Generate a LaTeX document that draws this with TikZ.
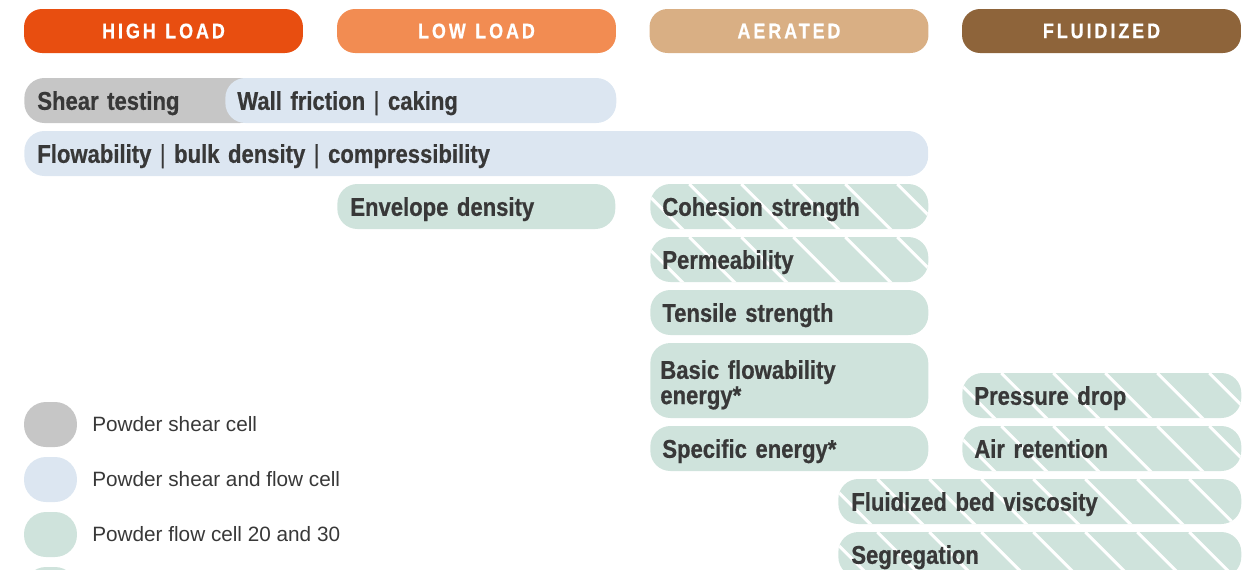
\documentclass[tikz,border=0pt]{standalone}
\usepackage{fontspec}
\usepackage{tikz}
\setmainfont{Liberation Sans}
\newfontfamily\condfont[FakeStretch=0.86,FakeBold=0.6]{Liberation Sans}
\newfontfamily\capsfont[FakeStretch=0.85,FakeBold=0.5,LetterSpace=14]{Liberation Sans}
\newcommand\headspace{\spaceskip 0.45em\relax}
\newcommand\barspace{\spaceskip 0.2em\relax}

\definecolor{highload}{HTML}{E84E10}
\definecolor{lowload}{HTML}{F28C52}
\definecolor{aerated}{HTML}{D9AF84}
\definecolor{fluidized}{HTML}{8E643A}
\definecolor{sheargray}{HTML}{C6C6C6}
\definecolor{shearblue}{HTML}{DCE6F1}
\definecolor{flowgreen}{HTML}{CFE3DC}
\definecolor{labeltext}{HTML}{383838}

\begin{document}
\begin{tikzpicture}[
    x=0.02cm, y=-0.02cm,
    header/.style={rounded corners=0.36cm, minimum width=5.58cm,
    minimum height=0.88cm, inner sep=0pt, text=white,
    font=\capsfont\bfseries\fontsize{12}{12}\selectfont\headspace},
    pill/.style={rounded corners=0.4cm, minimum height=0.9cm,
    inner xsep=0.26cm, inner ysep=0pt, anchor=west, align=left,
    text depth=0pt, text=labeltext,
    font=\condfont\bfseries\fontsize{14.6}{14.4}\selectfont\barspace},
    gray bar/.style={pill, fill=sheargray},
    blue bar/.style={pill, fill=shearblue},
    green bar/.style={pill, fill=flowgreen},
    hatched bar/.style={green bar, path picture={
        \foreach \k in {0,...,10}
            \draw[white, line width=1.7pt]
            ([xshift={\k*1.04cm-1.3cm}]path picture bounding box.north west)
            -- ++(2cm,-2cm);
    }},
    legend dot/.style={rounded corners=0.44cm, minimum width=1.06cm,
    minimum height=0.9cm, inner sep=0pt},
    legend text/.style={anchor=west, inner sep=0pt, text=labeltext,
    font=\fontsize{11.8}{14}\selectfont}
    ]

    \clip (0,0) rectangle (1249,569);

    % headers
    \node[header, fill=highload] (high) at (163.5,31) {HIGH LOAD};
    \node[header, fill=lowload] (low) at (476.5,31) {LOW LOAD};
    \node[header, fill=aerated] (aer) at (789,31) {AERATED};
    \node[header, fill=fluidized] (fluid) at (1101.5,31) {FLUIDIZED};

    % shear cell rows
    \node[gray bar, text width=4.20cm] (shear) at (24,100.5) {Shear testing};
    \node[blue bar, text width=7.34cm, inner xsep=0.24cm] (wall) at (225,100.5)
        {Wall friction {\mdseries|} caking};
    \node[blue bar, text width=17.56cm] (flow) at (24,153.5)
        {Flowability {\mdseries|} bulk density {\mdseries|} compressibility};

    % flow cell rows
    \node[green bar, text width=5.04cm] (env) at (337,206.5) {Envelope density};
    \node[hatched bar, text width=5.08cm, inner xsep=0.24cm] (coh) at (650,206.5)
        {Cohesion strength};
    \node[hatched bar, text width=5.08cm, inner xsep=0.24cm] (perm) at (650,259.5)
        {Permeability};
    \node[green bar, text width=5.08cm, inner xsep=0.24cm] (tens) at (650,312.5)
        {Tensile strength};
    \node[green bar, text width=5.16cm, inner xsep=0.2cm, minimum height=1.5cm,
        text depth=0.44cm] (bfe) at (650,380.5) {Basic flowability\\energy*};
    \node[green bar, text width=5.08cm, inner xsep=0.24cm] (se) at (650,448.5)
        {Specific energy*};
    \node[hatched bar, text width=5.10cm, inner xsep=0.24cm] (pd) at (962,395.5)
        {Pressure drop};
    \node[hatched bar, text width=5.10cm, inner xsep=0.24cm] (air) at (962,448.5)
        {Air retention};
    \node[hatched bar, text width=7.54cm] (visc) at (838,501.5)
        {Fluidized bed viscosity};
    \node[hatched bar, text width=7.54cm] (seg) at (838,554.5) {Segregation};

    % legend
    \node[legend dot, fill=sheargray] (leg1) at (50.5,424.5) {};
    \node[legend dot, fill=shearblue] (leg2) at (50.5,479.5) {};
    \node[legend dot, fill=flowgreen] (leg3) at (50.5,534.5) {};
    \node[legend dot, fill=flowgreen] (leg4) at (50.5,589.5) {};
    \node[legend text] (leg1txt) at (92,424.5) {Powder shear cell};
    \node[legend text] (leg2txt) at (92,479.5) {Powder shear and flow cell};
    \node[legend text] (leg3txt) at (92,534.5) {Powder flow cell 20 and 30};

\end{tikzpicture}
\end{document}
